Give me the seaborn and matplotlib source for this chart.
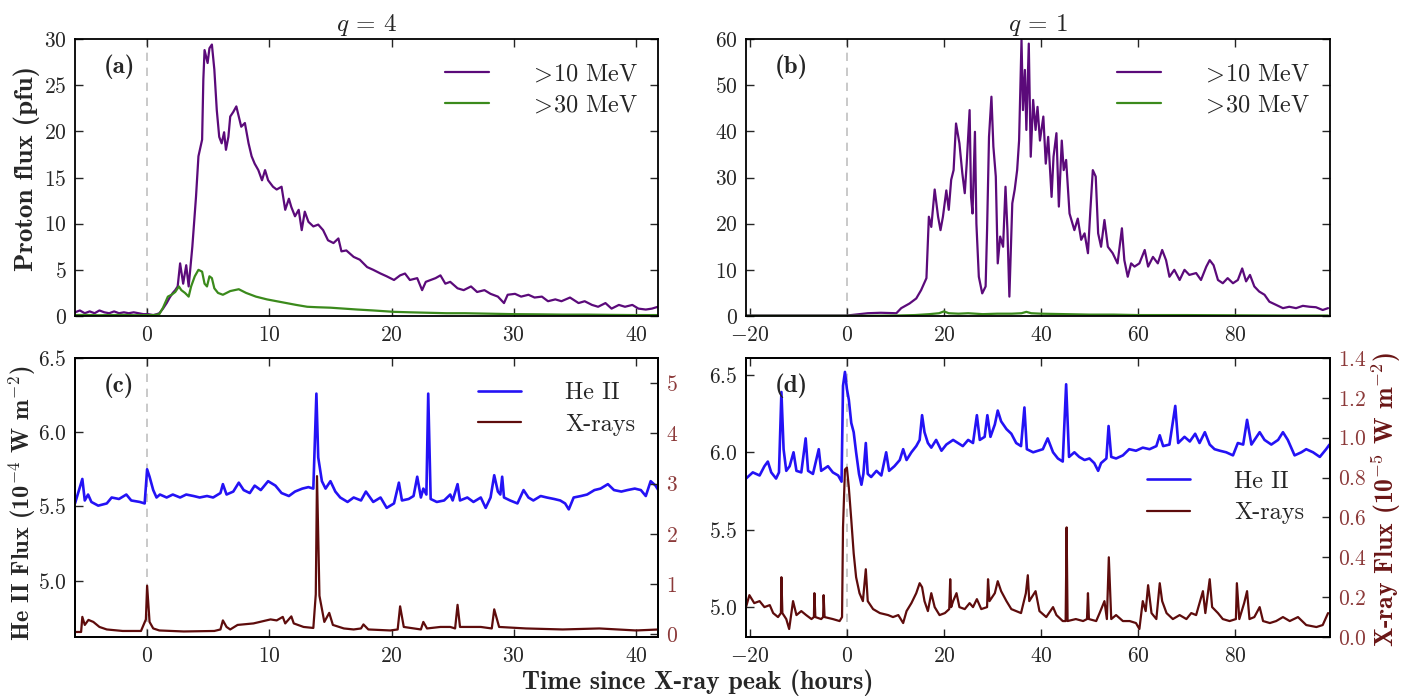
import numpy as np
import pandas as pd
import matplotlib
matplotlib.use("Agg")
import matplotlib.pyplot as plt
import seaborn as sns

# ---------------- data ----------------
# Panel (a): q = 4, proton flux
t_a10 = [-5.9, -5.5, -5.1, -4.7, -4.3, -3.9, -3.5, -3.1, -2.7, -2.3,
         -1.9, -1.5, -1.1, -0.7, -0.3, 0.1, 0.5, 0.8, 1.0, 1.3,
         1.6, 1.85, 2.1, 2.3, 2.5, 2.7, 2.95, 3.2, 3.4, 3.7,
         4.0, 4.2, 4.4, 4.5, 4.6, 4.7, 4.95, 5.1, 5.3, 5.5,
         5.7, 5.9, 6.1, 6.3, 6.45, 6.65, 6.8, 7.05, 7.3, 7.5,
         7.7, 8.0, 8.3, 8.55, 8.8, 9.1, 9.4, 9.65, 9.9, 10.3,
         10.6, 11.0, 11.3, 11.6, 11.8, 12.1, 12.4, 12.65, 12.9, 13.2,
         13.6, 14.0, 14.4, 14.8, 15.25, 15.65, 15.9, 16.3, 16.9, 17.4,
         18.0, 18.5, 19.1, 19.6, 20.2, 20.7, 21.1, 21.5, 22.1, 22.5,
         22.8, 23.2, 23.6, 24.0, 24.4, 24.8, 25.4, 25.9, 26.5, 27.0,
         27.6, 28.1, 28.7, 29.2, 29.5, 30.1, 30.6, 31.2, 31.7, 32.3,
         32.8, 33.4, 33.9, 34.6, 35.3, 35.8, 36.4, 36.9, 37.5, 38.0,
         38.6, 39.1, 39.7, 40.2, 40.8, 41.3, 41.8]
f_a10 = [0.4, 0.6, 0.3, 0.5, 0.3, 0.6, 0.4, 0.3, 0.5, 0.3,
         0.4, 0.3, 0.4, 0.3, 0.2, 0.2, 0.1, 0.2, 0.3, 0.8,
         1.4, 2.0, 2.5, 2.8, 3.2, 5.7, 3.5, 5.5, 3.2, 7.5,
         12.9, 17.3, 18.5, 19.1, 25.6, 28.8, 27.4, 29.0, 29.4, 26.7,
         22.3, 19.4, 18.7, 19.9, 18.0, 19.4, 21.6, 22.1, 22.7, 21.6,
         20.5, 20.9, 18.7, 17.3, 16.5, 15.8, 14.7, 15.8, 14.7, 14.0,
         13.7, 14.0, 11.5, 12.7, 11.8, 10.8, 11.5, 9.3, 11.3, 10.2,
         9.7, 9.9, 9.3, 8.2, 7.9, 8.4, 7.0, 7.1, 6.4, 6.1,
         5.3, 5.0, 4.6, 4.3, 3.9, 4.4, 4.6, 3.9, 4.1, 2.8,
         3.7, 3.9, 4.1, 4.4, 3.5, 3.7, 3.0, 2.8, 3.2, 2.6,
         2.8, 2.4, 2.1, 1.4, 2.3, 2.4, 2.1, 2.3, 2.0, 2.1,
         1.6, 1.8, 1.6, 2.0, 1.4, 1.6, 1.2, 1.0, 1.4, 0.8,
         1.2, 1.0, 1.2, 0.8, 0.7, 0.8, 1.0]
t_a30 = [-5.9, -5.0, -4.0, -3.0, -2.0, -1.0, 0.0,
         0.6, 1.0, 1.3, 1.7, 2.0, 2.3, 2.6, 2.8, 3.1, 3.4,
         3.6, 3.9, 4.2, 4.5, 4.7, 4.9, 5.1, 5.3, 5.5, 5.8,
         6.2, 6.8, 7.5, 8.1, 8.9, 9.8, 10.6, 11.4, 12.2, 13.1,
         13.9, 15.0, 16.1, 17.2, 18.5, 20.2, 21.5, 23.0, 24.5, 26.0,
         28.0, 30.0, 32.0, 34.0, 36.0, 38.0, 40.0, 41.8]
f_a30 = [0.1, 0.12, 0.08, 0.1, 0.12, 0.08, 0.1,
         0.1, 0.2, 0.9, 2.1, 2.3, 2.6, 3.2, 2.8, 2.5, 2.1,
         3.2, 4.3, 5.0, 4.8, 3.5, 3.2, 4.3, 4.1, 3.0, 2.5,
         2.3, 2.7, 2.9, 2.5, 2.1, 1.8, 1.6, 1.4, 1.2, 1.0,
         0.95, 0.9, 0.8, 0.7, 0.6, 0.45, 0.4, 0.35, 0.3, 0.3,
         0.25, 0.2, 0.18, 0.15, 0.15, 0.12, 0.1, 0.1]

# Panel (b): q = 1, proton flux
t_b10 = [-20.8, -16, -12, -8, -4, 0, 4.3, 7, 10.2, 11.2,
         12.9, 14.3, 15.3, 16.4, 16.9, 17.4, 18.1, 18.8, 19.3, 19.8,
         20.5, 21.0, 21.5, 22.0, 22.5, 23.2, 23.8, 24.3, 24.7, 25.3,
         25.6, 25.9, 26.4, 26.7, 27.2, 27.9, 28.6, 28.9, 29.3, 29.8,
         30.2, 30.7, 31.1, 31.6, 32.2, 32.7, 33.1, 33.5, 34.1, 34.6,
         35.1, 35.5, 36.0, 36.3, 36.7, 37.0, 37.5, 37.9, 38.4, 38.9,
         39.3, 39.8, 40.5, 41.0, 41.5, 42.2, 42.6, 43.2, 43.7, 44.3,
         44.7, 45.2, 45.9, 46.9, 47.6, 48.3, 49.0, 49.7, 50.2, 50.7,
         51.3, 51.8, 52.4, 53.1, 53.8, 54.8, 55.8, 56.7, 57.2, 57.9,
         58.6, 59.3, 60.3, 61.4, 62.1, 63.1, 64.1, 65.0, 65.8, 66.5,
         67.5, 68.6, 69.6, 70.6, 72.0, 73.0, 74.1, 74.8, 75.6, 76.5,
         77.5, 78.5, 79.6, 80.6, 81.5, 82.3, 83.1, 84.0, 85.0, 86.1,
         87.1, 88.5, 89.9, 91.2, 92.6, 94.0, 95.4, 96.7, 98.1, 99.2]
f_b10 = [0.1, 0.1, 0.1, 0.1, 0.1, 0.1, 0.6, 0.7, 0.6, 1.7,
         2.7, 3.8, 5.6, 8.2, 21.5, 19.3, 27.4, 21.5, 18.6, 21.5,
         27.2, 23.0, 29.5, 31.6, 41.7, 37.4, 30.9, 26.6, 33.0, 44.6,
         25.8, 22.2, 39.9, 20.0, 8.5, 4.9, 6.4, 18.6, 38.8, 47.5,
         36.7, 30.2, 11.4, 17.2, 15.0, 28.0, 18.6, 4.2, 24.4, 27.4,
         31.6, 38.0, 59.8, 44.6, 53.3, 40.3, 59.0, 34.5, 46.8, 40.3,
         45.3, 38.0, 43.2, 33.0, 38.8, 25.8, 34.5, 39.6, 23.7, 38.0,
         31.6, 33.8, 22.2, 18.6, 21.1, 16.5, 17.9, 13.6, 23.0, 31.6,
         30.2, 17.9, 15.0, 20.8, 15.0, 13.6, 11.4, 19.0, 12.1, 8.5,
         11.4, 10.7, 11.4, 14.3, 10.7, 12.8, 11.4, 14.3, 12.1, 8.5,
         10.0, 7.8, 10.0, 8.9, 9.3, 7.8, 10.7, 12.1, 11.0, 7.8,
         7.1, 8.2, 7.1, 7.8, 10.3, 7.5, 8.9, 6.4, 5.3, 4.6,
         3.1, 2.4, 1.7, 2.0, 1.7, 2.2, 2.0, 1.9, 1.3, 1.7]
t_b30 = [-20.8, -15, -10, -5, 0, 5, 10, 14, 17, 19,
         20, 21, 23, 25, 28, 31, 34, 36, 37, 38,
         40, 45, 50, 55, 60, 70, 80, 90, 99.2]
f_b30 = [0.05, 0.05, 0.05, 0.05, 0.05, 0.05, 0.1, 0.2, 0.4, 0.6,
         1.0, 0.6, 0.5, 0.6, 0.4, 0.5, 0.5, 0.6, 0.9, 0.6,
         0.5, 0.4, 0.3, 0.3, 0.2, 0.2, 0.15, 0.1, 0.1]

# Panel (c): q = 4, He II and X-rays
t_c_he = [-5.9, -5.3, -5.1, -4.83, -4.56, -4.0, -3.3, -2.9, -2.3, -1.7,
          -1.3, -0.6, -0.2, 0.0, 0.2, 0.5, 0.77, 1.05, 1.6, 2.1,
          2.7, 3.2, 3.8, 4.3, 4.9, 5.4, 6.0, 6.2, 6.5, 7.05,
          7.5, 7.9, 8.4, 8.8, 9.3, 9.9, 10.5, 11.0, 11.6, 12.1,
          12.7, 13.2, 13.6, 13.85, 14.0, 14.3, 14.6, 15.0, 15.4, 15.8,
          16.4, 16.9, 17.5, 17.9, 18.5, 19.1, 19.6, 20.2, 20.6, 20.85,
          21.4, 21.8, 22.1, 22.4, 22.6, 22.85, 23.0, 23.2, 23.7, 24.3,
          24.8, 25.0, 25.4, 25.6, 26.2, 26.7, 27.3, 27.7, 28.1, 28.4,
          28.7, 28.9, 29.05, 29.2, 29.7, 30.3, 30.8, 31.2, 31.6, 32.2,
          32.7, 33.3, 33.8, 34.2, 34.5, 34.9, 35.5, 36.0, 36.6, 37.1,
          37.7, 38.2, 38.8, 39.3, 39.9, 40.4, 40.8, 41.2, 41.6, 41.9]
he_c = [5.52, 5.685, 5.54, 5.58, 5.53, 5.505, 5.52, 5.56, 5.55, 5.58,
        5.54, 5.53, 5.52, 5.75, 5.70, 5.61, 5.56, 5.58, 5.56, 5.58,
        5.56, 5.58, 5.57, 5.56, 5.57, 5.56, 5.59, 5.65, 5.58, 5.60,
        5.66, 5.61, 5.59, 5.64, 5.61, 5.67, 5.64, 5.59, 5.57, 5.60,
        5.62, 5.63, 5.62, 6.26, 5.83, 5.67, 5.62, 5.67, 5.60, 5.56,
        5.53, 5.56, 5.54, 5.60, 5.53, 5.56, 5.49, 5.52, 5.66, 5.54,
        5.55, 5.57, 5.70, 5.56, 5.62, 5.58, 6.26, 5.55, 5.53, 5.54,
        5.58, 5.54, 5.65, 5.54, 5.56, 5.53, 5.56, 5.49, 5.56, 5.71,
        5.60, 5.58, 5.70, 5.56, 5.54, 5.52, 5.61, 5.56, 5.54, 5.57,
        5.56, 5.55, 5.54, 5.52, 5.48, 5.56, 5.57, 5.58, 5.61, 5.62,
        5.65, 5.61, 5.60, 5.61, 5.62, 5.61, 5.57, 5.67, 5.64, 5.60]
t_c_xr = [-5.9, -5.4, -5.3, -5.1, -4.8, -4.4, -3.9, -3.3, -2.0, -0.5,
          -0.1, 0.0, 0.2, 0.5, 1.0, 3.0, 5.5, 6.0, 6.2, 6.5,
          6.8, 7.4, 8.7, 10.1, 10.6, 11.1, 11.3, 11.8, 12.0, 12.8,
          13.6, 13.8, 13.9, 14.1, 14.5, 14.9, 15.2, 16.1, 16.9, 17.5,
          17.7, 18.1, 19.9, 20.5, 20.7, 21.0, 22.4, 22.6, 22.9, 24.0,
          24.8, 25.2, 25.4, 25.6, 27.3, 28.2, 28.4, 28.8, 31.0, 34.0,
          37.0, 40.0, 41.9]
xr_c = [0.05, 0.05, 0.35, 0.19, 0.29, 0.25, 0.15, 0.1, 0.07, 0.07,
        0.3, 0.97, 0.25, 0.12, 0.08, 0.06, 0.07, 0.1, 0.28, 0.15,
        0.1, 0.19, 0.22, 0.30, 0.28, 0.35, 0.22, 0.36, 0.22, 0.15,
        0.13, 0.8, 3.15, 0.77, 0.25, 0.43, 0.19, 0.12, 0.1, 0.12,
        0.2, 0.1, 0.08, 0.1, 0.56, 0.15, 0.1, 0.25, 0.12, 0.15,
        0.15, 0.12, 0.59, 0.15, 0.15, 0.12, 0.50, 0.15, 0.12, 0.1,
        0.12, 0.08, 0.1]

# Panel (d): q = 1, He II and X-rays
t_d_he = [-20.8, -19.4, -18.0, -17.0, -16.3, -15.6, -14.6, -14.0, -13.5, -13.05,
          -12.5, -11.8, -11.0, -10.4, -9.4, -8.5, -8.0, -7.0, -5.8, -5.3,
          -3.9, -2.9, -1.8, -1.1, -0.8, -0.4, 0.0, 0.4, 0.9, 1.4,
          1.9, 2.5, 3.0, 3.4, 3.9, 4.3, 5.0, 6.1, 7.1, 8.1,
          8.7, 9.8, 10.9, 11.6, 12.3, 13.3, 14.3, 15.0, 15.5, 16.0,
          16.7, 17.4, 18.4, 19.5, 20.5, 21.9, 22.9, 23.9, 25.0, 26.0,
          26.8, 27.4, 28.4, 28.96, 29.6, 30.5, 31.1, 31.8, 32.9, 33.9,
          34.9, 35.9, 36.6, 37.1, 38.4, 39.4, 40.4, 41.4, 42.5, 43.5,
          44.5, 45.2, 45.8, 46.9, 47.9, 49.0, 50.0, 51.0, 51.8, 52.4,
          53.5, 53.95, 54.5, 55.5, 56.9, 58.2, 59.6, 61.0, 62.4, 63.8,
          64.5, 65.2, 66.5, 67.7, 68.3, 69.6, 70.7, 71.8, 72.7, 73.8,
          74.8, 75.8, 76.9, 78.2, 79.6, 80.6, 81.7, 82.5, 83.4, 85.1,
          86.1, 87.5, 88.9, 89.9, 90.9, 92.3, 93.7, 94.7, 96.1, 97.5,
          98.8, 99.5]
he_d = [5.83, 5.87, 5.85, 5.91, 5.94, 5.87, 5.83, 5.87, 6.39, 6.02,
        5.88, 5.91, 6.0, 5.88, 5.87, 6.09, 5.88, 5.86, 6.02, 5.88,
        5.91, 5.87, 5.85, 5.81, 6.43, 6.52, 6.41, 6.34, 6.19, 6.13,
        6.0, 5.86, 5.79, 5.86, 6.06, 5.86, 5.84, 5.88, 5.85, 6.0,
        5.88, 5.91, 5.95, 6.02, 5.95, 6.0, 6.04, 6.08, 6.24, 6.13,
        6.06, 6.03, 6.08, 6.01, 6.05, 6.08, 6.06, 6.04, 6.08, 6.06,
        6.24, 6.08, 6.1, 6.24, 6.1, 6.18, 6.27, 6.2, 6.15, 6.12,
        6.06, 6.04, 6.29, 6.02, 6.0, 6.01, 6.02, 6.09, 6.0, 5.96,
        5.94, 6.44, 5.97, 6.0, 5.97, 5.95, 5.96, 5.93, 5.88, 5.93,
        5.96, 6.17, 5.97, 5.96, 5.98, 6.02, 6.01, 6.03, 6.02, 6.04,
        6.11, 6.04, 6.05, 6.30, 6.06, 6.1, 6.07, 6.12, 6.06, 6.13,
        6.05, 6.02, 6.01, 6.0, 5.98, 6.06, 6.05, 6.21, 6.05, 6.13,
        6.08, 6.05, 6.08, 6.13, 6.08, 5.98, 6.0, 6.02, 6.0, 5.97,
        6.02, 6.05]
t_d_xr = [-20.8, -20.1, -19.1, -18.0, -17.0, -15.9, -15.2, -14.2, -13.6, -13.5,
          -13.3, -12.5, -11.9, -11.1, -10.4, -9.4, -8.4, -7.3, -6.8, -6.7,
          -6.5, -5.3, -4.9, -4.8, -4.6, -2.9, -1.5, -1.0, -0.8, -0.4,
          0.0, 0.4, 0.9, 1.4, 1.9, 2.6, 3.3, 3.9, 4.3, 5.4,
          6.8, 8.5, 9.5, 10.6, 11.6, 12.3, 13.3, 14.3, 15.0, 15.5,
          16.0, 16.7, 17.4, 18.1, 19.1, 20.2, 21.1, 21.3, 21.5, 21.9,
          22.6, 23.2, 24.3, 25.3, 26.0, 26.8, 27.7, 28.9, 29.1, 29.4,
          30.5, 31.1, 31.8, 32.9, 33.9, 34.9, 35.9, 36.9, 37.3, 37.6,
          38.9, 39.7, 41.1, 42.5, 43.2, 44.5, 45.1, 45.3, 45.5, 47.2,
          48.7, 49.5, 49.7, 49.9, 51.4, 52.1, 53.1, 53.6, 54.0, 54.5,
          55.5, 56.9, 58.3, 59.6, 60.3, 61.0, 61.6, 62.1, 62.8, 63.8,
          64.5, 65.0, 65.9, 67.2, 68.6, 70.0, 71.0, 72.0, 73.4, 73.9,
          74.8, 75.3, 76.5, 77.5, 78.9, 80.2, 80.4, 80.9, 81.9, 82.5,
          83.0, 84.0, 85.1, 85.8, 87.2, 88.5, 89.9, 91.3, 93.0, 94.7,
          96.8, 98.1, 99.2]
xr_d = [0.15, 0.21, 0.17, 0.18, 0.15, 0.16, 0.12, 0.10, 0.12, 0.30,
        0.12, 0.09, 0.04, 0.18, 0.11, 0.13, 0.11, 0.09, 0.10, 0.22,
        0.10, 0.09, 0.10, 0.21, 0.10, 0.09, 0.08, 0.10, 0.55, 0.84,
        0.85, 0.75, 0.59, 0.42, 0.30, 0.22, 0.18, 0.34, 0.18, 0.14,
        0.12, 0.11, 0.10, 0.11, 0.07, 0.13, 0.17, 0.22, 0.27, 0.25,
        0.18, 0.13, 0.22, 0.15, 0.11, 0.12, 0.14, 0.29, 0.15, 0.18,
        0.22, 0.15, 0.14, 0.17, 0.15, 0.19, 0.14, 0.15, 0.29, 0.18,
        0.22, 0.28, 0.23, 0.18, 0.14, 0.13, 0.12, 0.22, 0.31, 0.18,
        0.23, 0.13, 0.10, 0.15, 0.11, 0.08, 0.08, 0.55, 0.08, 0.09,
        0.08, 0.09, 0.22, 0.09, 0.08, 0.12, 0.18, 0.09, 0.40, 0.09,
        0.11, 0.08, 0.08, 0.07, 0.04, 0.18, 0.13, 0.26, 0.12, 0.09,
        0.27, 0.18, 0.12, 0.09, 0.11, 0.09, 0.12, 0.11, 0.23, 0.12,
        0.29, 0.15, 0.12, 0.09, 0.08, 0.09, 0.27, 0.09, 0.17, 0.23,
        0.09, 0.10, 0.15, 0.08, 0.07, 0.08, 0.10, 0.08, 0.10, 0.06,
        0.05, 0.06, 0.12]

titles = ["$q$ = 4", "$q$ = 1"]
panel_labels = ["(a)", "(b)", "(c)", "(d)"]
proton_labels = [r"$\!>\!$10 MeV", r"$\!>\!$30 MeV"]
flux_labels = ["He II", "X-rays"]

# ---------------- style ----------------
sns.set_style("ticks")
plt.rcParams.update({
    "font.family": ["cmr10"],
    "mathtext.fontset": "cm",
    "axes.formatter.use_mathtext": True,
    "axes.linewidth": 1.3,
    "axes.edgecolor": "black",
    "xtick.direction": "in",
    "ytick.direction": "in",
    "xtick.major.size": 6,
    "ytick.major.size": 6,
    "xtick.major.width": 1.0,
    "ytick.major.width": 1.0,
    "xtick.labelsize": 15.5,
    "ytick.labelsize": 15.5,
    "xtick.major.pad": 7,
    "ytick.major.pad": 6,
})

PURPLE = "#5b0a7a"
GREEN = "#3b8a1c"
BLUE = "#2412f5"
DRED = "#5e0c0c"
TICKRED = "#8c3a3a"
LABRED = "#6a1616"

W, H = 1403, 698
fig = plt.figure(figsize=(W / 100, H / 100), dpi=100)


def rect(l, t, r, b):
    return [l / W, 1 - b / H, (r - l) / W, (b - t) / H]


axa = fig.add_axes(rect(75, 39, 658, 316))
axb = fig.add_axes(rect(746, 39, 1330, 316))
axc = fig.add_axes(rect(75, 358, 658, 637))
axd = fig.add_axes(rect(746, 358, 1330, 637))

LW = 1.6


def line(ax, x, y, color, label, lw=LW):
    df = pd.DataFrame({"t": x, "v": y})
    sns.lineplot(data=df, x="t", y="v", ax=ax, color=color, lw=lw,
                 estimator=None, sort=False, label=label, legend=False)


for ax in (axa, axb, axc, axd):
    ax.axvline(0, color="#c0c0c0", lw=1.2, ls=(0, (5, 4)), zorder=0)

# (a)
line(axa, t_a10, f_a10, PURPLE, proton_labels[0])
line(axa, t_a30, f_a30, GREEN, proton_labels[1])
# (b)
line(axb, t_b10, f_b10, PURPLE, proton_labels[0])
line(axb, t_b30, f_b30, GREEN, proton_labels[1])

# (c)
axc2 = axc.twinx()
line(axc, t_c_he, he_c, BLUE, flux_labels[0], lw=1.9)
line(axc2, t_c_xr, xr_c, DRED, flux_labels[1])
# (d)
axd2 = axd.twinx()
line(axd, t_d_he, he_d, BLUE, flux_labels[0], lw=1.9)
line(axd2, t_d_xr, xr_d, DRED, flux_labels[1])

for ax in (axa, axc, axc2):
    ax.set_xlim(-5.9, 41.8)
for ax in (axb, axd, axd2):
    ax.set_xlim(-20.8, 99.6)

axa.set_ylim(0, 30)
axa.set_yticks([0, 5, 10, 15, 20, 25, 30])
axb.set_ylim(0, 60)
axb.set_yticks([0, 10, 20, 30, 40, 50, 60])
axa.set_xticks([0, 10, 20, 30, 40])
axc.set_xticks([0, 10, 20, 30, 40])
axb.set_xticks([-20, 0, 20, 40, 60, 80])
axd.set_xticks([-20, 0, 20, 40, 60, 80])

axc.set_ylim(4.62, 6.5)
axc.set_yticks([5.0, 5.5, 6.0, 6.5])
axc2.set_ylim(-0.05, 5.5)
axc2.set_yticks([0, 1, 2, 3, 4, 5])
axd.set_ylim(4.805, 6.61)
axd.set_yticks([5.0, 5.5, 6.0, 6.5])
axd2.set_ylim(0.0, 1.4)
axd2.set_yticks([0.0, 0.2, 0.4, 0.6, 0.8, 1.0, 1.2, 1.4])

for ax in (axa, axb, axc, axd, axc2, axd2):
    ax.set_xlabel("")
    ax.set_ylabel("")

for ax in (axa, axb):
    ax.tick_params(top=True, right=True, bottom=True, left=True)
for ax in (axc, axd):
    ax.tick_params(top=True, right=False, bottom=True, left=True)
for ax in (axc2, axd2):
    ax.tick_params(axis="y", right=True, labelcolor=TICKRED)
fmt = matplotlib.ticker.FuncFormatter
axc2.yaxis.set_major_formatter(fmt(lambda v, p: r"$\mathdefault{%d}$" % round(v)))
axd2.yaxis.set_major_formatter(fmt(lambda v, p: r"$\mathdefault{%.1f}$" % v))
for ax in (axc, axd):
    ax.yaxis.set_major_formatter(fmt(lambda v, p: r"$\mathdefault{%.1f}$" % v))

for ax in (axa, axb, axc, axd, axc2, axd2):
    for s in ax.spines.values():
        s.set_visible(True)
        s.set_linewidth(1.3)
        s.set_color("black")

# titles
axa.set_title(titles[0], fontsize=18, pad=6)
axb.set_title(titles[1], fontsize=18, pad=6)

# panel labels
for ax, lab in zip((axa, axb, axc, axd), panel_labels):
    ax.text(0.05, 0.9, lab, transform=ax.transAxes, fontsize=18,
            family="cmb10", va="center", ha="left", zorder=5)

# legends
legkw = dict(frameon=False, fontsize=17.5, handlelength=1.8, handletextpad=1.8,
             labelspacing=0.4, borderaxespad=0.3)
axa.legend(loc="upper right", bbox_to_anchor=(0.995, 0.975), **legkw)
axb.legend(loc="upper right", bbox_to_anchor=(0.995, 0.975), **legkw)
h1 = [l for l in axc.get_lines() + axc2.get_lines() if l.get_label() in flux_labels]
axc2.legend(h1, flux_labels, loc="upper right", bbox_to_anchor=(0.99, 0.975), **legkw)
h2 = [l for l in axd.get_lines() + axd2.get_lines() if l.get_label() in flux_labels]
axd2.legend(h2, flux_labels, loc="center right", bbox_to_anchor=(0.985, 0.5), **legkw)

# axis labels
fig.text(27 / W, 1 - 168 / H, "Proton flux (pfu)", rotation=90, family="cmb10",
         fontsize=19.5, ha="center", va="center")
fig.text(22 / W, 1 - 503 / H, "He II Flux (10$^{-4}$ W m$^{-2}$)", rotation=90,
         family="cmb10", fontsize=17.5, ha="center", va="center")
fig.text(1386 / W, 1 - 500 / H, "X-ray Flux (10$^{-5}$ W m$^{-2}$)", rotation=90,
         family="cmb10", fontsize=18.5, ha="center", va="center", color=LABRED)
fig.text(0.497, 1 - 683 / H, "Time since X-ray peak (hours)", family="cmb10",
         fontsize=18.7, ha="center", va="center")

fig.savefig("out.png", dpi=100)
